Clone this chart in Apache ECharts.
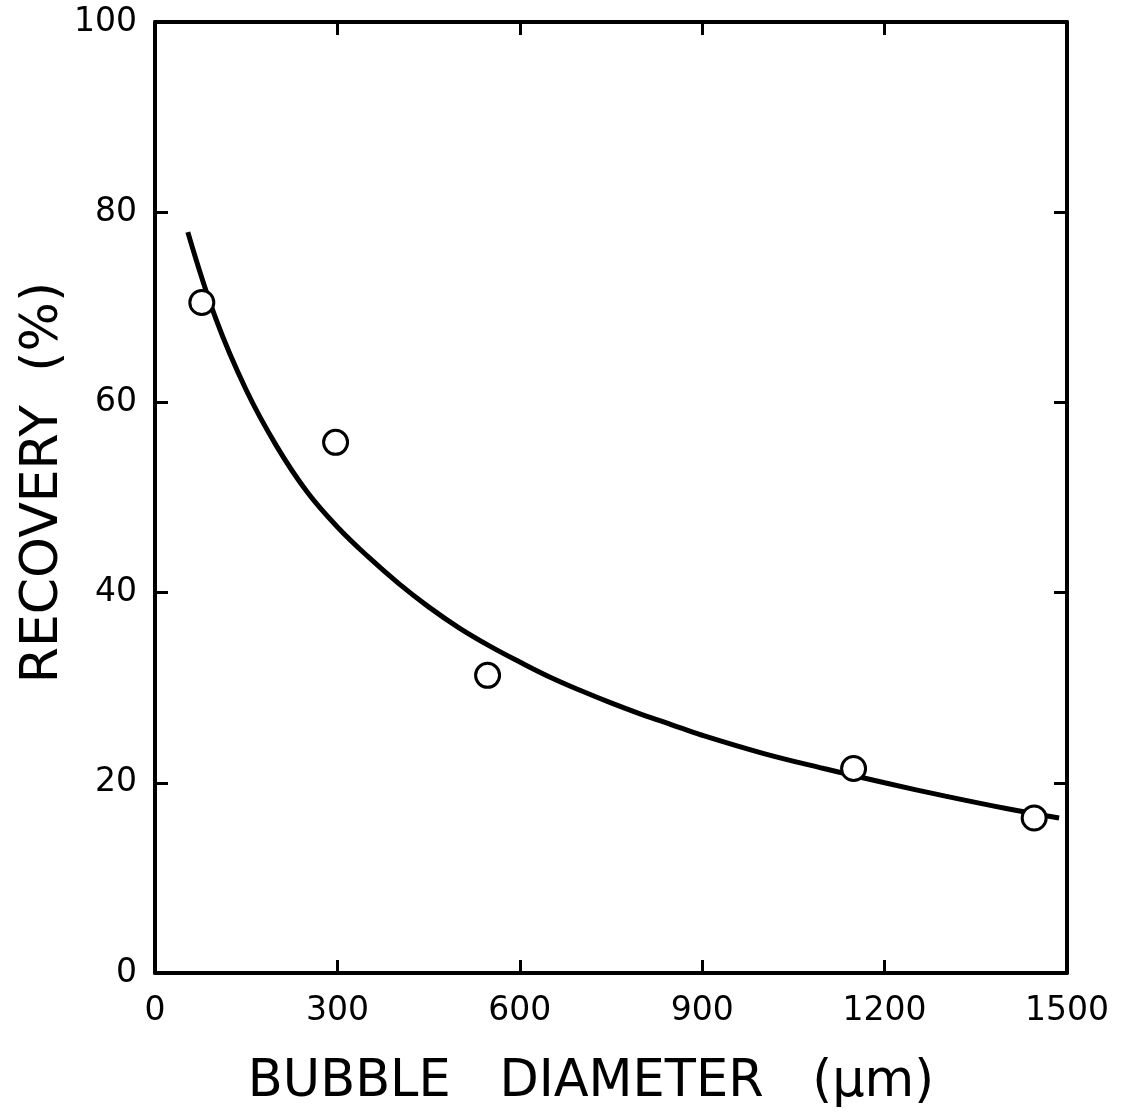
<!DOCTYPE html>
<html>
<head>
<meta charset="utf-8">
<script src="https://cdn.jsdelivr.net/npm/echarts@6/dist/echarts.min.js"></script>
<style>
    html, body { margin: 0; padding: 0; background: #fff; }
    #chart { width: 1133px; height: 1117px; }
</style>
</head>
<body>
<div id="chart"></div>
<script>
// measured points (bubble diameter, recovery)
var pointX = [77, 297, 547, 1149, 1446];
var pointY = [70.5, 55.8, 31.3, 21.5, 16.3];

// fitted curve
var curveX = [54, 100, 150, 200, 250, 300, 350, 400, 450, 500, 550, 600, 650, 700, 750, 800, 850, 900, 1000, 1100, 1200, 1300, 1400, 1487];
var curveY = [77.9, 68.8, 61.3, 55.4, 50.6, 46.9, 43.8, 41.0, 38.5, 36.3, 34.4, 32.7, 31.1, 29.7, 28.4, 27.2, 26.1, 25.0, 23.1, 21.5, 20.0, 18.6, 17.3, 16.3];

var xTicks = [0, 300, 600, 900, 1200, 1500];
var yTicks = [0, 20, 40, 60, 80, 100];

var font = 'DejaVu Sans';
var myChart = echarts.init(document.getElementById('chart'));

function mkLine() {
    return { show: true, onZero: false, lineStyle: { color: '#000', width: 4 } };
}
function mkTick() {
    return { show: true, inside: true, length: 13, lineStyle: { color: '#000', width: 3 } };
}

var option = {
    backgroundColor: '#fff',
    animation: false,
    grid: { left: 155, top: 22, right: 66, bottom: 144 },
    xAxis: [{
        type: 'value',
        min: 0, max: 1500, interval: 300,
        position: 'bottom',
        axisLine: mkLine(),
        axisTick: mkTick(),
        splitLine: { show: false },
        axisLabel: {
            margin: 22,
            color: '#000',
            fontFamily: font,
            fontSize: 33,
            formatter: function (v) { return xTicks.indexOf(v) >= 0 ? String(v) : ''; }
        },
        name: 'BUBBLE   DIAMETER   (μm)',
        nameLocation: 'middle',
        nameGap: 84,
        nameMoveOverlap: false,
        nameTextStyle: { color: '#000', fontFamily: font, fontSize: 51, padding: [0, 40, 0, 0] }
    }, {
        type: 'value',
        min: 0, max: 1500, interval: 300,
        position: 'top',
        axisLine: mkLine(),
        axisTick: mkTick(),
        axisLabel: { show: false },
        splitLine: { show: false }
    }],
    yAxis: [{
        type: 'value',
        min: 0, max: 100, interval: 20,
        position: 'left',
        axisLine: mkLine(),
        axisTick: mkTick(),
        splitLine: { show: false },
        axisLabel: {
            margin: 18,
            color: '#000',
            fontFamily: font,
            fontSize: 33,
            formatter: function (v) { return yTicks.indexOf(v) >= 0 ? String(v) : ''; }
        },
        name: 'RECOVERY  (%)',
        nameLocation: 'middle',
        nameGap: 86,
        nameMoveOverlap: false,
        nameRotate: 90,
        nameTextStyle: { color: '#000', fontFamily: font, fontSize: 52, padding: [0, 0, 0, 30] }
    }, {
        type: 'value',
        min: 0, max: 100, interval: 20,
        position: 'right',
        axisLine: mkLine(),
        axisTick: mkTick(),
        axisLabel: { show: false },
        splitLine: { show: false }
    }],
    series: [{
        name: 'curve',
        type: 'line',
        data: curveX.map(function (x, i) { return [x, curveY[i]]; }),
        smooth: 0.4,
        showSymbol: false,
        lineStyle: { color: '#000', width: 5 },
        z: 2
    }, {
        name: 'data',
        type: 'scatter',
        data: pointX.map(function (x, i) { return [x, pointY[i]]; }),
        symbol: 'circle',
        symbolSize: 24,
        itemStyle: { color: '#fff', borderColor: '#000', borderWidth: 3, opacity: 1 },
        z: 3
    }]
};
myChart.setOption(option);
</script>
</body>
</html>
